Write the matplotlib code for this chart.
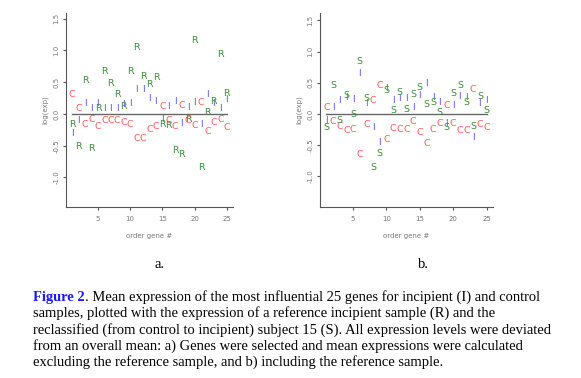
import matplotlib
matplotlib.use("Agg")
import matplotlib.pyplot as plt
import numpy as np

# ---- data ----
genes = list(range(1, 26))

# panel a: control (C), incipient (I), reference sample (R)
a_C = [0.31, 0.09, -0.17, -0.08, -0.20, -0.11, -0.11, -0.10, -0.14, -0.17,
       -0.39, -0.39, -0.25, -0.19, 0.11, -0.10, -0.20, 0.14, -0.10, -0.18,
       0.18, -0.28, -0.14, -0.09, -0.22]
a_I = [-0.31, -0.10, 0.17, 0.08, 0.17, 0.09, 0.09, 0.09, 0.15, 0.17,
       0.38, 0.38, 0.25, 0.19, -0.09, 0.12, 0.19, -0.15, 0.10, 0.18,
       -0.17, 0.30, 0.16, 0.08, 0.22]
a_R = [-0.17, -0.51, 0.52, -0.55, 0.08, 0.67, 0.48, 0.30, 0.12, 0.67,
       1.05, 0.59, 0.46, 0.57, -0.16, -0.18, -0.58, -0.64, -0.09, 1.15,
       -0.85, 0.03, 0.19, 0.94, 0.33]

# panel b: control (C), incipient (I), reclassified subject 15 (S)
b_C = [0.10, -0.12, -0.20, -0.26, -0.25, -0.65, -0.17, 0.21, 0.46, -0.41,
       -0.23, -0.24, -0.24, -0.12, -0.29, -0.47, -0.25, -0.15, 0.13, -0.15,
       -0.27, -0.26, 0.39, -0.17, -0.21]
b_I = [-0.10, 0.11, 0.21, 0.26, 0.23, 0.65, 0.17, -0.21, -0.46, 0.41,
       0.22, 0.25, 0.25, 0.11, 0.30, 0.49, 0.26, 0.18, -0.15, 0.14,
       0.28, 0.26, -0.38, 0.17, 0.22]
b_S = [-0.22, 0.45, -0.10, 0.29, 0.00, 0.85, 0.25, -0.86, -0.64, 0.38,
       0.06, 0.35, 0.07, 0.31, 0.42, 0.15, 0.18, 0.03, -0.22, 0.33,
       0.46, 0.18, -0.20, 0.28, 0.05]

yticks = [-1.0, -0.5, 0.0, 0.5, 1.0, 1.5]
ytick_labels = ["-1.0", "-0.5", "0.0", "0.5", "1.0", "1.5"]
xticks = [5, 10, 15, 20, 25]
panel_labels = ["a.", "b."]
xlabel = "order gene #"
ylabel = "log(exp)"

caption_head = "Figure 2"
caption_lines = [
    ". Mean expression of the most influential 25 genes for incipient (I) and control",
    "samples, plotted with the expression of a reference incipient sample (R) and the",
    "reclassified (from control to incipient) subject 15 (S). All expression levels were deviated",
    "from an overall mean: a) Genes were selected and mean expressions were calculated",
    "excluding the reference sample, and b) including the reference sample.",
]

col_C = "#ff5c5c"
col_I = "#5c5cff"
col_G = "#3d8f3d"
axcol = "#555555"
txtcol = "#777777"

W, H = 581, 378
fig = plt.figure(figsize=(W / 100, H / 100), dpi=100)


def make_panel(rect, ylim, series):
    ax = fig.add_axes(rect)
    ax.set_xlim(0.04, 25.96)
    ax.set_ylim(*ylim)
    for s in ["top", "right"]:
        ax.spines[s].set_visible(False)
    for s in ["left", "bottom"]:
        ax.spines[s].set_color(axcol)
        ax.spines[s].set_linewidth(0.8)
    ax.plot([1, 25], [0, 0], color="#666666", lw=1.0, zorder=1)
    for vals, letter, col in series:
        for g, v in zip(genes, vals):
            ax.text(g, v, letter, color=col, fontsize=6.8, ha="center",
                    va="center", family="DejaVu Sans", zorder=3)
    ax.set_yticks(yticks)
    ax.set_yticklabels(ytick_labels, rotation=90, va="center")
    ax.set_xticks(xticks)
    ax.tick_params(axis="both", length=2.2, width=0.8, color=axcol,
                   labelsize=5, labelcolor=txtcol)
    ax.tick_params(axis="y", pad=2.5)
    ax.tick_params(axis="x", pad=4.5)
    ax.set_xlabel(xlabel, fontsize=5, color=txtcol, labelpad=8)
    ax.set_ylabel(ylabel, fontsize=5, color=txtcol, labelpad=4)
    return ax


ax1 = make_panel([66 / W, 1 - 207 / H, 167 / W, 194 / H], (-1.465, 1.59),
                 [(a_C, "C", col_C), (a_I, "I", col_I), (a_R, "R", col_G)])
ax2 = make_panel([320 / W, 1 - 207 / H, 173 / W, 194 / H], (-1.49, 1.62),
                 [(b_C, "C", col_C), (b_I, "I", col_I), (b_S, "S", col_G)])

serif = "Liberation Serif"
fs = 10.45
fig.text(160 / W, 1 - 265 / H, panel_labels[0], fontsize=fs, family=serif,
         ha="center", va="center")
fig.text(423 / W, 1 - 265 / H, panel_labels[1], fontsize=fs, family=serif,
         ha="center", va="center")

x0 = 33 / W
y0 = 297
dy = 16.3
head = fig.text(x0, 1 - y0 / H, caption_head, fontsize=fs, family=serif,
                weight="bold", color="#1a1aff", ha="left", va="center")
fig.canvas.draw()
bb = head.get_window_extent(renderer=fig.canvas.get_renderer())
fig.text(bb.x1 / W, 1 - y0 / H, caption_lines[0], fontsize=fs, family=serif,
         ha="left", va="center")
for i, line in enumerate(caption_lines[1:], start=1):
    fig.text(x0, 1 - (y0 + i * dy) / H, line, fontsize=fs, family=serif,
             ha="left", va="center")

fig.savefig("out.png", dpi=100)
